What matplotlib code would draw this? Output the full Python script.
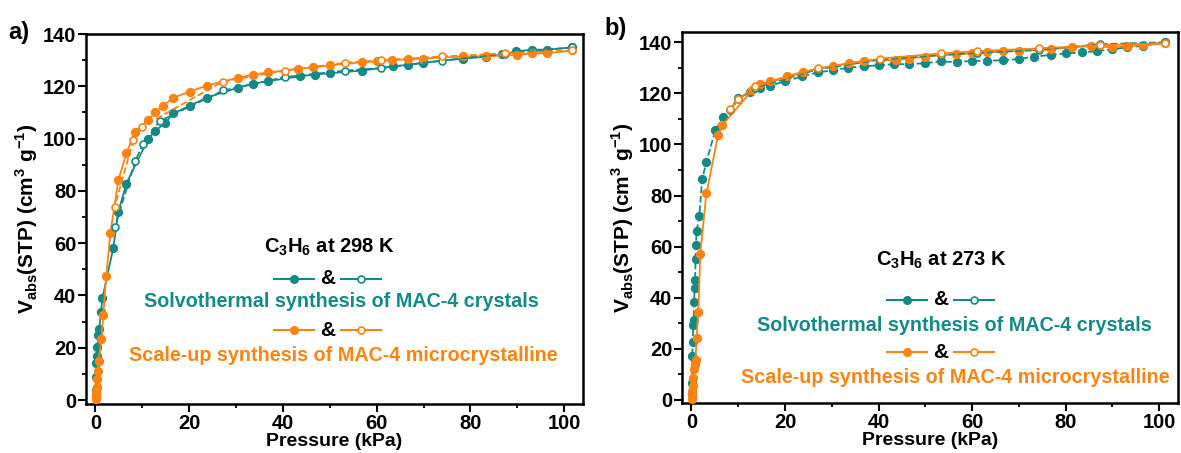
import numpy as np
import matplotlib
matplotlib.use('Agg')
from matplotlib import pyplot as plt
from matplotlib.lines import Line2D
from matplotlib.ticker import MultipleLocator

plt.rcParams['font.family'] = ['Liberation Sans', 'DejaVu Sans']
plt.rcParams['font.weight'] = 'bold'
plt.rcParams['mathtext.fontset'] = 'custom'
plt.rcParams['mathtext.rm'] = 'Liberation Sans:bold'
plt.rcParams['mathtext.bf'] = 'Liberation Sans:bold'

TEAL = '#138a86'
ORANGE = '#ff8311'

# ---- panel a: 298 K ----
a_teal_ads_x = [0.05, 0.1, 0.15, 0.2, 0.3, 0.45, 0.6, 0.8, 1.2, 1.5, 3.8, 4.9, 6.6, 11.3, 12.8, 14.9,
                16.6, 20.2, 23.8, 30.5, 33.7, 36.9, 43.6, 46.8, 50, 56.8, 63.4, 66.6, 69.8, 78.3,
                83.4, 86.8, 89.8, 93.2, 96.4, 101.7]
a_teal_ads_y = [1.5, 4, 9, 14, 17, 20.3, 25, 27, 33.6, 39, 58, 72, 82.8, 100, 103, 106,
                109.6, 112.6, 115.7, 119.5, 121, 122, 123.8, 124.5, 125, 126, 127.6, 128.2, 129, 130.6,
                131.3, 132.2, 133.4, 134, 134, 134.9]
a_teal_des_x = [101.7, 87.4, 74, 61, 53.2, 40.4, 27.3, 13.8, 10.2, 8.5, 4.1]
a_teal_des_y = [134.9, 132.5, 129.8, 127, 126, 123.5, 118.4, 106.8, 98, 91.5, 66]

a_or_ads_x = [0.05, 0.1, 0.15, 0.25, 0.35, 0.5, 0.7, 1.3, 1.7, 2.3, 3.2, 4.9, 6.6, 8.5, 11.3, 12.8,
              14.5, 16.6, 20.2, 23.8, 30.5, 33.7, 36.9, 43.2, 46.4, 50, 56.8, 60, 63.2, 66.6,
              69.8, 78.3, 83.4, 90, 93.2, 96.4, 101.7]
a_or_ads_y = [0.5, 1.5, 3, 5, 8, 11, 15, 23.3, 32.6, 47.3, 64, 84, 94.5, 102.7, 107, 110.3,
              112.6, 115.6, 118, 120.3, 123.3, 124.5, 125.3, 126.7, 127.2, 128, 129.2, 129.5, 130, 130.3,
              130.6, 131.4, 131.5, 132, 132.6, 132.6, 133.7]
a_or_des_x = [101.7, 87.4, 74, 61, 53.2, 40.4, 27.2, 10, 8.1, 4.1]
a_or_des_y = [133.7, 132.6, 131.4, 130, 129, 126, 121.8, 104.6, 99.6, 73.8]

# ---- panel b: 273 K ----
b_teal_ads_x = [0.1, 0.15, 0.2, 0.3, 0.4, 0.5, 0.6, 0.7, 0.8, 0.9, 1.0, 1.1, 1.7, 2.3, 3.2, 5.1, 6.8,
                10, 12.6, 14.7, 16.8, 20, 23.6, 27, 30.2, 33.4, 37, 40.2, 43.4, 46.6, 50, 53.4,
                56.8, 60, 63.2, 66.6, 70, 73.2, 76.8, 80, 83.4, 86.6, 89.8, 93.2, 96.6, 101.3]
b_teal_ads_y = [2.5, 6.5, 17.2, 22.7, 29.4, 31.4, 38.5, 44, 47, 55, 60.8, 66, 71.8, 86.3, 93, 105.5, 110.6,
                118, 120.4, 122, 123, 124.7, 126.6, 128.2, 129, 130, 130.6, 131, 131.4, 131.4, 131.8, 132.5,
                132.2, 132.7, 132.7, 133, 133.4, 134.4, 135, 135.6, 136, 136.5, 137.2, 138, 138.6, 140]
b_teal_des_x = [101.3, 87.4, 74.3, 61, 53.4, 40.4, 27, 13.6, 10, 8.3]
b_teal_des_y = [140, 139.2, 137, 135.8, 135, 133.2, 129.4, 122.2, 117.6, 113.4]

b_or_ads_x = [0.05, 0.1, 0.2, 0.3, 0.45, 0.6, 0.75, 0.9, 1.1, 1.5, 1.9, 3.2, 5.7, 6.6, 13, 14.7,
              16.8, 20.4, 23.8, 30.2, 33.6, 37, 43.8, 46.6, 50, 56.6, 60, 63.2, 66.6, 70,
              76.8, 81.3, 85.5, 89.8, 93.2, 96.6, 101.3]
b_or_ads_y = [0.5, 1.5, 3.5, 5.5, 8.5, 12, 14, 15.7, 24.3, 34.5, 57, 80.8, 103.5, 107.5, 121.2, 123.5,
              124.7, 126.6, 128.4, 130.6, 131.8, 132.7, 133, 133.6, 134.4, 135.3, 135.6, 136, 136.4, 136.6,
              137.2, 138, 138.5, 138, 138.5, 138.8, 139.6]
b_or_des_x = [101.3, 87.4, 74.3, 61, 53.4, 40.4, 27, 13.6, 10, 8.3]
b_or_des_y = [139.6, 138.8, 137.6, 136.5, 135.6, 133.6, 129.8, 122.7, 117.6, 113.7]

x_ticks = [0, 20, 40, 60, 80, 100]
y_ticks = [0, 20, 40, 60, 80, 100, 120, 140]

fig = plt.figure(figsize=(11.81, 4.53), dpi=100)


def draw_panel(rect, ylim, series, tag, tagpos, title, txt_pos, key_rows):
    ax = fig.add_axes(rect)
    for x, y, col, filled, ls in series:
        ax.plot(x, y, color=col, lw=1.3, ls=ls, marker='o', ms=5.5 if filled else 5,
                mfc=col if filled else 'white', mec=col, mew=1.2, zorder=3 if filled else 4)
    ax.set_xlim(-2, 104)
    ax.set_ylim(*ylim)
    ax.set_xticks(x_ticks)
    ax.set_yticks(y_ticks)
    ax.xaxis.set_minor_locator(MultipleLocator(10))
    ax.yaxis.set_minor_locator(MultipleLocator(10))
    ax.tick_params(which='major', direction='out', length=5.5, width=1.5, labelsize=14.5, pad=2)
    ax.tick_params(which='minor', direction='out', length=3, width=1.3)
    ax.tick_params(axis='y', pad=1.5)
    for lab in ax.get_xticklabels() + ax.get_yticklabels():
        lab.set_fontweight('bold')
    for s in ax.spines.values():
        s.set_linewidth(1.8)
    ax.set_xlabel('Pressure (kPa)', fontsize=14, fontweight='bold', labelpad=0)
    ax.set_ylabel(r'V$_{\mathbf{abs}}$(STP) (cm$^{\mathbf{3}}$ g$^{\mathbf{-1}}$)',
                  fontsize=15, fontweight='bold', labelpad=2)
    fig.text(tagpos[0], tagpos[1], tag, fontsize=17, fontweight='bold', ha='left', va='center')

    tx, ty, sy, uy = txt_pos
    ax.text(tx, ty, r'C$_{\mathbf{3}}$H$_{\mathbf{6}}$ at ' + title, transform=ax.transAxes,
            ha='center', va='center', fontsize=14.5, fontweight='bold')
    ax.text(tx + 0.025, sy, 'Solvothermal synthesis of MAC-4 crystals', transform=ax.transAxes,
            ha='center', va='center', fontsize=14.2, fontweight='bold', color=TEAL)
    ax.text(tx + 0.028, uy, 'Scale-up synthesis of MAC-4 microcrystalline', transform=ax.transAxes,
            ha='center', va='center', fontsize=14.2, fontweight='bold', color=ORANGE)
    for ky, col in key_rows:
        kx = tx
        ax.add_line(Line2D([kx - 0.11, kx - 0.03], [ky, ky], transform=ax.transAxes, color=col, lw=1.5))
        ax.add_line(Line2D([kx - 0.07], [ky], transform=ax.transAxes, color=col, marker='o', ms=5.5, mfc=col, mec=col))
        ax.text(kx - 0.003, ky, '&', transform=ax.transAxes, ha='center', va='center',
                fontsize=15, fontweight='bold')
        ax.add_line(Line2D([kx + 0.025, kx + 0.105], [ky, ky], transform=ax.transAxes, color=col, lw=1.5))
        ax.add_line(Line2D([kx + 0.065], [ky], transform=ax.transAxes, color=col, marker='o', ms=5,
                           mfc='white', mec=col, mew=1.2))
    return ax


draw_panel([86 / 1181, 49 / 453, 497 / 1181, 370 / 453], (-1.5, 140),
           [(a_teal_ads_x, a_teal_ads_y, TEAL, True, '-'),
            (a_teal_des_x, a_teal_des_y, TEAL, False, '--'),
            (a_or_ads_x, a_or_ads_y, ORANGE, True, '-'),
            (a_or_des_x, a_or_des_y, ORANGE, False, '--')],
           'a)', (8 / 1181, 1 - 32 / 453), '298 K',
           (0.489, 0.424, 0.276, 0.132), [(0.338, TEAL), (0.200, ORANGE)])

draw_panel([682 / 1181, 50 / 453, 496 / 1181, 371 / 453], (-1.2, 144),
           [(b_teal_ads_x, b_teal_ads_y, TEAL, True, '--'),
            (b_teal_des_x, b_teal_des_y, TEAL, False, '--'),
            (b_or_ads_x, b_or_ads_y, ORANGE, True, '-'),
            (b_or_des_x, b_or_des_y, ORANGE, False, '-')],
           'b)', (604 / 1181, 1 - 29 / 453), '273 K',
           (0.524, 0.385, 0.21, 0.07), [(0.278, TEAL), (0.137, ORANGE)])

plt.savefig('out.png', dpi=100)
